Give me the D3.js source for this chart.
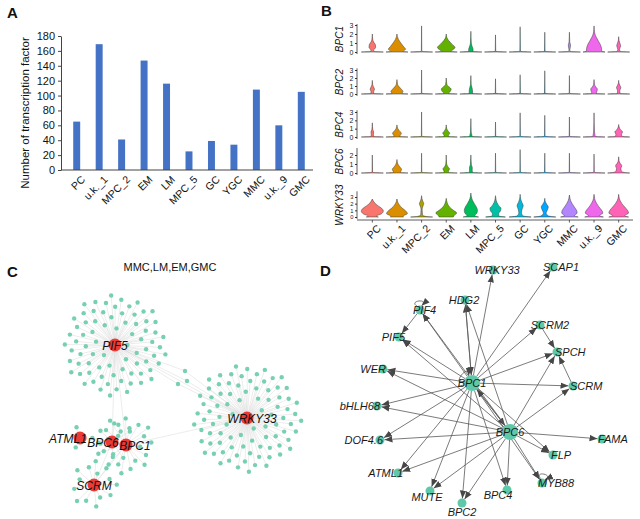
<!DOCTYPE html>
<html>
<head>
<meta charset="utf-8">
<script src="https://cdn.jsdelivr.net/npm/d3@7"></script>
<style>
body { margin: 0; background: #fff; }
svg { display: block; font-family: "Liberation Sans", Arial, sans-serif; }
</style>
</head>
<body>
<svg id="fig" width="640" height="519"></svg>
<script>
// ---------- panel A : number of TFs per cluster
var tfClusters = ["PC", "u.k._1", "MPC_2", "EM", "LM", "MPC_5", "GC", "YGC", "MMC", "u.k._9", "GMC"];
var tfCounts = [65, 169, 41, 147, 116, 25, 39, 34, 108, 60, 105];
var tfTicks = [0, 20, 40, 60, 80, 100, 120, 140, 160, 180];

// ---------- panel B : violin profiles, [expression value, relative half width]
var vlnGenes = ["BPC1", "BPC2", "BPC4", "BPC6", "WRKY33"];
var vlnTicks = [[0, 1, 2, 3], [0, 1, 2, 3], [0, 1, 2, 3], [0, 1, 2], [0, 1, 2, 3]];
var clusterColors = ["#F8766D", "#DB8E00", "#AEA200", "#64B200", "#00BD5C", "#00C1A7",
                     "#00BADE", "#00A6FF", "#B385FF", "#EF67EB", "#FF63B6"];

function stem(max) { return [[0, 1], [0.06, 0.1], [0.15, 0.02], [max, 0]]; }

var bpc1Vln = [
    [[0, 1], [0.06, 0.15], [0.2, 0.12], [0.5, 0.3], [0.8, 0.28], [1.1, 0.12], [1.4, 0.04], [2.0, 0]],
    [[0, 1], [0.06, 0.55], [0.3, 0.78], [0.6, 0.6], [1.0, 0.35], [1.4, 0.14], [1.7, 0.04], [2.0, 0]],
    stem(2.9),
    [[0, 1], [0.06, 0.45], [0.5, 0.8], [0.9, 0.5], [1.3, 0.2], [1.6, 0.06], [2.0, 0]],
    [[0, 1], [0.06, 0.2], [0.3, 0.2], [0.6, 0.12], [1.0, 0.04], [2.3, 0]],
    stem(1.9),
    stem(2.8),
    stem(2.2),
    [[0, 1], [0.06, 0.12], [0.2, 0.03], [0.5, 0.08], [0.8, 0.1], [1.1, 0.03], [2.2, 0]],
    [[0, 1], [0.08, 0.7], [0.4, 0.68], [0.8, 0.58], [1.2, 0.4], [1.6, 0.22], [2.0, 0.08], [2.5, 0.02], [2.9, 0]],
    [[0, 1], [0.06, 0.15], [0.3, 0.08], [0.7, 0.18], [1.0, 0.1], [1.3, 0.03], [1.7, 0]]
];
var bpc2Vln = [
    [[0, 1], [0.06, 0.12], [0.3, 0.12], [0.6, 0.2], [0.9, 0.1], [1.2, 0.03], [1.7, 0]],
    [[0, 1], [0.06, 0.45], [0.3, 0.55], [0.6, 0.4], [0.9, 0.2], [1.2, 0.06], [1.8, 0]],
    stem(3.0),
    [[0, 1], [0.06, 0.2], [0.3, 0.35], [0.6, 0.45], [0.9, 0.25], [1.2, 0.06], [2.0, 0]],
    [[0, 1], [0.06, 0.15], [0.4, 0.15], [0.8, 0.1], [1.2, 0.03], [2.3, 0]],
    stem(1.9),
    stem(2.4),
    stem(2.9),
    stem(2.3),
    [[0, 1], [0.06, 0.2], [0.3, 0.25], [0.6, 0.3], [0.9, 0.15], [1.2, 0.04], [1.8, 0]],
    [[0, 1], [0.06, 0.12], [0.4, 0.1], [0.8, 0.2], [1.1, 0.1], [1.4, 0.02], [1.7, 0]]
];
var bpc4Vln = [
    [[0, 1], [0.06, 0.1], [0.3, 0.1], [0.6, 0.12], [0.9, 0.04], [1.7, 0]],
    [[0, 1], [0.06, 0.25], [0.2, 0.3], [0.45, 0.4], [0.7, 0.25], [1.0, 0.08], [1.45, 0]],
    stem(3.0),
    [[0, 1], [0.06, 0.2], [0.2, 0.2], [0.45, 0.32], [0.7, 0.18], [1.0, 0.05], [1.45, 0]],
    [[0, 1], [0.06, 0.12], [0.3, 0.08], [0.6, 0.03], [2.2, 0]],
    stem(1.8),
    stem(2.9),
    stem(2.6),
    stem(2.4),
    [[0, 1], [0.06, 0.12], [0.3, 0.08], [0.6, 0.04], [2.9, 0]],
    [[0, 1], [0.06, 0.35], [0.3, 0.25], [0.6, 0.35], [0.9, 0.15], [1.2, 0.04], [1.5, 0]]
];
var bpc6Vln = [
    stem(2.0),
    [[0, 1], [0.06, 0.3], [0.2, 0.35], [0.4, 0.42], [0.7, 0.25], [1.0, 0.08], [1.5, 0]],
    stem(2.2),
    [[0, 1], [0.06, 0.2], [0.2, 0.2], [0.45, 0.3], [0.7, 0.15], [1.0, 0.04], [2.0, 0]],
    [[0, 1], [0.06, 0.15], [0.3, 0.12], [0.6, 0.13], [0.9, 0.05], [2.0, 0]],
    stem(2.2),
    stem(2.6),
    stem(2.2),
    stem(2.2),
    stem(2.1),
    [[0, 1], [0.06, 0.5], [0.2, 0.25], [0.5, 0.2], [0.8, 0.28], [1.1, 0.12], [1.4, 0.03], [1.8, 0]]
];
var wrky33Vln = [
    [[0, 0.55], [0.15, 0.35], [0.45, 0.8], [0.9, 1.0], [1.3, 0.85], [1.7, 0.5], [2.1, 0.22], [2.5, 0.06], [2.7, 0]],
    [[0, 0.6], [0.15, 0.55], [0.5, 0.95], [0.9, 0.8], [1.3, 0.5], [1.8, 0.22], [2.3, 0.06], [2.7, 0]],
    [[0, 1], [0.08, 0.4], [0.3, 0.08], [1.2, 0.05], [1.7, 0.14], [2.0, 0.2], [2.4, 0.1], [2.8, 0.03], [3.2, 0]],
    [[0, 0.65], [0.2, 0.7], [0.6, 0.95], [1.0, 0.65], [1.5, 0.3], [2.0, 0.12], [2.5, 0.03], [2.8, 0]],
    [[0, 0.7], [0.2, 0.35], [0.6, 0.55], [1.0, 0.6], [1.5, 0.5], [2.0, 0.32], [2.5, 0.15], [3.0, 0.05], [3.6, 0]],
    [[0, 0.9], [0.15, 0.3], [0.5, 0.28], [0.9, 0.45], [1.3, 0.5], [1.7, 0.3], [2.2, 0.12], [2.7, 0.04], [3.2, 0]],
    [[0, 1], [0.15, 0.3], [0.6, 0.12], [1.2, 0.18], [1.7, 0.28], [2.2, 0.15], [2.7, 0.05], [3.4, 0]],
    [[0, 1], [0.15, 0.35], [0.6, 0.12], [1.1, 0.25], [1.5, 0.32], [1.9, 0.18], [2.3, 0.05], [2.8, 0]],
    [[0, 0.8], [0.2, 0.45], [0.6, 0.7], [1.0, 0.65], [1.5, 0.45], [2.0, 0.25], [2.5, 0.1], [3.0, 0.03], [3.3, 0]],
    [[0, 0.85], [0.2, 0.5], [0.6, 0.8], [1.0, 0.7], [1.5, 0.45], [2.0, 0.25], [2.5, 0.1], [3.0, 0.03], [3.4, 0]],
    [[0, 0.9], [0.2, 0.55], [0.6, 0.9], [1.0, 0.8], [1.5, 0.55], [2.0, 0.3], [2.5, 0.12], [3.0, 0.03], [3.4, 0]]
];
var vlnData = [bpc1Vln, bpc2Vln, bpc4Vln, bpc6Vln, wrky33Vln];

// ---------- panel C : co-expression network (layout units from the figure)
var hubNames = ["PIF5", "WRKY33", "ATML1", "BPC6", "BPC1", "SCRM"];
var hubX = [115, 247, 80, 112, 126, 94];
var hubY = [90, 163, 183, 187, 190, 230];
var hubLeafCount = [78, 88, 2, 10, 22, 14];
var hubLinks = [["PIF5", "BPC6"], ["PIF5", "BPC1"], ["BPC1", "WRKY33"], ["PIF5", "WRKY33"],
                ["BPC6", "BPC1"], ["ATML1", "BPC6"], ["BPC6", "SCRM"], ["BPC1", "SCRM"]];
var sharedX = [185, 187, 178];
var sharedY = [116, 126, 129];

// ---------- panel D : regulatory network
var regNames = ["BPC1", "BPC6", "WRKY33", "SCAP1", "HDG2", "PIF4", "SCRM2", "PIF5", "SPCH", "WER",
                "SCRM", "bHLH68", "DOF4.6", "FAMA", "FLP", "MYB88", "ATML1", "MUTE", "BPC2", "BPC4"];
var regX = [152, 190, 173, 233, 145, 100, 220, 79, 237, 63, 253, 57, 60, 282, 233, 222, 78, 110, 142, 187];
var regY = [128, 177, 15, 12, 45, 55, 70, 82, 97, 114, 131, 151, 185, 184, 200, 228, 218, 236, 248, 235];
var regEdges = [
    ["BPC1", "WRKY33"], ["BPC1", "SCAP1"], ["BPC1", "HDG2"], ["BPC1", "PIF4"], ["BPC1", "PIF5"],
    ["BPC1", "SCRM2"], ["BPC1", "SPCH"], ["BPC1", "SCRM"], ["BPC1", "WER"], ["BPC1", "bHLH68"],
    ["BPC1", "DOF4.6"], ["BPC1", "ATML1"], ["BPC1", "MUTE"], ["BPC1", "BPC2"], ["BPC1", "BPC4"],
    ["BPC1", "BPC6"], ["BPC1", "FLP"], ["BPC1", "MYB88"],
    ["BPC6", "HDG2"], ["BPC6", "PIF4"], ["BPC6", "PIF5"], ["BPC6", "WER"], ["BPC6", "bHLH68"],
    ["BPC6", "DOF4.6"], ["BPC6", "ATML1"], ["BPC6", "MUTE"], ["BPC6", "BPC2"], ["BPC6", "BPC4"],
    ["BPC6", "FAMA"], ["BPC6", "FLP"], ["BPC6", "MYB88"], ["BPC6", "SPCH"], ["BPC6", "SCRM"],
    ["BPC6", "BPC1"], ["HDG2", "BPC1"], ["PIF4", "PIF5"], ["SCRM2", "SPCH"], ["SCRM", "SPCH"]
];
var regSelfLoops = ["BPC1", "PIF4", "MYB88"];

// label placement for panel D: [anchor, dx, dy]
var regLabelPos = {
    "BPC1": ["middle", 0, 4], "BPC6": ["middle", 0, 4], "WRKY33": ["middle", 4, 4],
    "SCAP1": ["middle", 8, 4], "HDG2": ["middle", -1, 4], "PIF4": ["start", -7, 4],
    "SCRM2": ["middle", 10, 4], "PIF5": ["end", 6, 4], "SPCH": ["start", -2, 4],
    "WER": ["end", 3, 4], "SCRM": ["start", -3, 4], "bHLH68": ["end", 3, 4],
    "DOF4.6": ["end", 3, 4], "FAMA": ["start", -4, 4], "FLP": ["start", -2, 4],
    "MYB88": ["start", -4, 4], "ATML1": ["end", 5, 4], "MUTE": ["middle", -3, 10],
    "BPC2": ["middle", 0, 13], "BPC4": ["middle", -9, 9]
};
var loopAngle = { "BPC1": -2.5, "PIF4": -1.7, "MYB88": -1.35 };

var svg = d3.select("#fig");

function panelLabel(t, x, y)
{
    svg.append("text").attr("x", x).attr("y", y)
        .attr("font-size", 15).attr("font-weight", "bold").attr("fill", "#111").text(t);
}

// ================= A =================
var gA = svg.append("g");
var xA = d3.scaleBand().domain(tfClusters).range([62, 316]).paddingInner(0.69).paddingOuter(0.5);
var yA = d3.scaleLinear().domain([0, 180]).range([170, 36]);

gA.selectAll("rect").data(tfCounts).enter().append("rect")
    .attr("x", function (d, i) { return xA(tfClusters[i]); })
    .attr("y", function (d) { return yA(d); })
    .attr("width", xA.bandwidth())
    .attr("height", function (d) { return yA(0) - yA(d); })
    .attr("fill", "#4472C4");

var axA = gA.append("g").attr("transform", "translate(61,0)")
    .call(d3.axisLeft(yA).tickValues(tfTicks).tickSize(3).tickSizeOuter(0));
axA.select(".domain").attr("stroke", "#444");
axA.selectAll(".tick line").attr("stroke", "#444");
axA.selectAll("text").attr("font-size", 11).attr("fill", "#111")
    .attr("font-family", "Liberation Sans, Arial, sans-serif");

gA.append("line").attr("x1", 61).attr("x2", 313).attr("y1", 170).attr("y2", 170)
    .attr("stroke", "#444");

gA.selectAll(".xlab").data(tfClusters).enter().append("text")
    .attr("class", "xlab")
    .attr("transform", function (d) { return "translate(" + (xA(d) + xA.bandwidth() / 2 + 4) + ",175) rotate(-45)"; })
    .attr("text-anchor", "end").attr("dy", "0.7em")
    .attr("font-size", 10.5).attr("fill", "#111").text(function (d) { return d; });

gA.append("text").attr("transform", "translate(29,113) rotate(-90)")
    .attr("text-anchor", "middle").attr("font-size", 11.5).attr("fill", "#111")
    .text("Number of transcription factor");

panelLabel("A", 7, 18);

// ================= B =================
var gB = svg.append("g");
var xB = d3.scaleBand().domain(tfClusters).range([360, 631]);
var wB = d3.scaleLinear().domain([0, 1]).range([0, 11]);
// row layout: [y of 0, y of top tick]
var rowRange = [[52, 25], [94, 70], [137, 112], [173, 155], [217, 197]];

vlnGenes.forEach(function (gene, r)
{
    var ticks = vlnTicks[r];
    var top = ticks[ticks.length - 1];
    var y = d3.scaleLinear().domain([0, top]).range(rowRange[r]);
    var dataMax = d3.max(vlnData[r], function (p) { return d3.max(p, function (k) { return k[0]; }); });

    var area = d3.area().curve(d3.curveMonotoneY)
        .y(function (k) { return y(k[0]); });

    vlnData[r].forEach(function (prof, c)
    {
        var cx = xB(tfClusters[c]) + xB.bandwidth() / 2;
        area.x0(function (k) { return cx - wB(k[1]); })
            .x1(function (k) { return cx + wB(k[1]); });
        gB.append("path")
            .attr("d", area(prof.slice().reverse()))
            .attr("fill", clusterColors[c])
            .attr("stroke", "#3a3a3a").attr("stroke-width", 0.5);
    });

    var ax = gB.append("g").attr("transform", "translate(357,0)")
        .call(d3.axisLeft(y).tickValues(ticks).tickFormat(d3.format("d"))
            .tickSize(2).tickSizeOuter(0).tickPadding(1.5));
    ax.select(".domain").attr("d", "M0," + y(-0.08 * dataMax) + "V" + y(dataMax * 1.07))
        .attr("stroke", "#333").attr("stroke-width", 0.8);
    ax.selectAll(".tick line").attr("stroke", "#333");
    ax.selectAll("text").attr("font-size", r === 4 ? 5.8 : 7).attr("fill", "#222")
        .attr("font-family", "Liberation Sans, Arial, sans-serif");

    var mid = (y(-0.08 * dataMax) + y(dataMax * 1.07)) / 2;
    gB.append("text").attr("transform", "translate(343," + mid + ") rotate(-90)")
        .attr("text-anchor", "middle").attr("font-size", 10).attr("font-style", "italic")
        .attr("fill", "#111").text(gene);
});

gB.append("line").attr("x1", 357).attr("x2", 633).attr("y1", 220).attr("y2", 220)
    .attr("stroke", "#333").attr("stroke-width", 0.8);
gB.selectAll(".bt").data(tfClusters).enter().append("line")
    .attr("x1", function (d) { return xB(d) + xB.bandwidth() / 2; })
    .attr("x2", function (d) { return xB(d) + xB.bandwidth() / 2; })
    .attr("y1", 220).attr("y2", 222.5).attr("stroke", "#333").attr("stroke-width", 0.8);
gB.selectAll(".blab").data(tfClusters).enter().append("text")
    .attr("transform", function (d) { return "translate(" + (xB(d) + xB.bandwidth() / 2 + 4) + ",224) rotate(-45)"; })
    .attr("text-anchor", "end").attr("dy", "0.7em")
    .attr("font-size", 10.5).attr("fill", "#111").text(function (d) { return d; });

panelLabel("B", 321, 16);

// ================= C =================
var gC = svg.append("g");
var xC = d3.scaleLinear().domain([0, 320]).range([0, 320]);
var yC = d3.scaleLinear().domain([0, 264]).range([255, 519]);

var golden = Math.PI * (3 - Math.sqrt(5));
var hubPos = {};
hubNames.forEach(function (h, i) { hubPos[h] = [xC(hubX[i]), yC(hubY[i])]; });

var leaves = [];
hubNames.forEach(function (h, i)
{
    var n = hubLeafCount[i];
    var rMax = 5.4 * Math.sqrt(n) + 4;
    for (var k = 0; k < n; k++)
    {
        var rr = 9 + (rMax - 9) * Math.sqrt((k + 0.5) / n);
        var a = k * golden + i;
        leaves.push({ hub: h, x: hubPos[h][0] + rr * Math.cos(a), y: hubPos[h][1] + rr * Math.sin(a) });
    }
});
var shared = sharedX.map(function (d, i) { return { x: xC(d), y: yC(sharedY[i]) }; });

var edgeC = gC.append("g").attr("stroke", "#d9d9d9").attr("stroke-width", 0.5);
leaves.forEach(function (l)
{
    edgeC.append("line").attr("x1", hubPos[l.hub][0]).attr("y1", hubPos[l.hub][1])
        .attr("x2", l.x).attr("y2", l.y);
});
shared.forEach(function (s)
{
    ["PIF5", "WRKY33"].forEach(function (h)
    {
        edgeC.append("line").attr("x1", hubPos[h][0]).attr("y1", hubPos[h][1])
            .attr("x2", s.x).attr("y2", s.y);
    });
});
hubLinks.forEach(function (e)
{
    edgeC.append("line").attr("x1", hubPos[e[0]][0]).attr("y1", hubPos[e[0]][1])
        .attr("x2", hubPos[e[1]][0]).attr("y2", hubPos[e[1]][1]);
});

gC.selectAll(".leaf").data(leaves.concat(shared)).enter().append("circle")
    .attr("cx", function (d) { return d.x; }).attr("cy", function (d) { return d.y; })
    .attr("r", 2.2).attr("fill", "#78d0b3");

gC.selectAll(".hub").data(hubNames).enter().append("circle")
    .attr("cx", function (d) { return hubPos[d][0]; }).attr("cy", function (d) { return hubPos[d][1]; })
    .attr("r", 6.5).attr("fill", "#ee3a35");

var hubLabelDx = { "PIF5": 0, "WRKY33": 5, "ATML1": -12, "BPC6": -9, "BPC1": 9, "SCRM": 0 };
gC.selectAll(".hl").data(hubNames).enter().append("text")
    .attr("x", function (d) { return hubPos[d][0] + hubLabelDx[d]; })
    .attr("y", function (d) { return hubPos[d][1] + 4.5; })
    .attr("text-anchor", "middle").attr("font-size", 12).attr("font-style", "italic")
    .attr("fill", "#111").text(function (d) { return d; });

gC.append("text").attr("x", 170).attr("y", 271).attr("text-anchor", "middle")
    .attr("font-size", 11).attr("fill", "#111").text("MMC,LM,EM,GMC");

panelLabel("C", 7, 277);

// ================= D =================
var gD = svg.append("g");
var xD = d3.scaleLinear().domain([0, 320]).range([320, 640]);
var yD = d3.scaleLinear().domain([0, 264]).range([255, 519]);

var defs = svg.append("defs");
defs.append("marker").attr("id", "arr").attr("viewBox", "0 -4 8 8")
    .attr("refX", 8).attr("refY", 0).attr("markerWidth", 8).attr("markerHeight", 8)
    .attr("markerUnits", "userSpaceOnUse").attr("orient", "auto")
    .append("path").attr("d", "M0,-3.2L8,0L0,3.2Z").attr("fill", "#474747");

var regPos = {};
regNames.forEach(function (n, i)
{
    regPos[n] = { x: xD(regX[i]), y: yD(regY[i]), r: (n === "BPC1" || n === "BPC6") ? 8 : 4.5 };
});

var edgeD = gD.append("g").attr("stroke", "#595959").attr("stroke-width", 0.8).attr("fill", "none");
regEdges.forEach(function (e)
{
    var s = regPos[e[0]], t = regPos[e[1]];
    var dx = t.x - s.x, dy = t.y - s.y, len = Math.sqrt(dx * dx + dy * dy);
    var ux = dx / len, uy = dy / len;
    edgeD.append("line")
        .attr("x1", s.x + ux * s.r).attr("y1", s.y + uy * s.r)
        .attr("x2", t.x - ux * t.r).attr("y2", t.y - uy * t.r)
        .attr("marker-end", "url(#arr)");
});
regSelfLoops.forEach(function (n)
{
    var p = regPos[n], a = loopAngle[n], size = n === "BPC1" ? 14 : 11;
    var s = [p.x + p.r * Math.cos(a - 0.5), p.y + p.r * Math.sin(a - 0.5)];
    var e = [p.x + p.r * Math.cos(a + 0.5), p.y + p.r * Math.sin(a + 0.5)];
    var c1 = [p.x + (p.r + size) * Math.cos(a - 0.8), p.y + (p.r + size) * Math.sin(a - 0.8)];
    var c2 = [p.x + (p.r + size) * Math.cos(a + 0.8), p.y + (p.r + size) * Math.sin(a + 0.8)];
    edgeD.append("path")
        .attr("d", "M" + s + "C" + c1 + " " + c2 + " " + e)
        .attr("marker-end", "url(#arr)");
});

gD.selectAll(".node").data(regNames).enter().append("circle")
    .attr("cx", function (d) { return regPos[d].x; }).attr("cy", function (d) { return regPos[d].y; })
    .attr("r", function (d) { return regPos[d].r; }).attr("fill", "#5ec9a8");

gD.selectAll(".nl").data(regNames).enter().append("text")
    .attr("x", function (d) { return regPos[d].x + regLabelPos[d][1]; })
    .attr("y", function (d) { return regPos[d].y + regLabelPos[d][2]; })
    .attr("text-anchor", function (d) { return regLabelPos[d][0]; })
    .attr("font-size", 11).attr("font-style", "italic").attr("fill", "#1a1a1a")
    .text(function (d) { return d; });

panelLabel("D", 320, 276);
</script>
</body>
</html>
